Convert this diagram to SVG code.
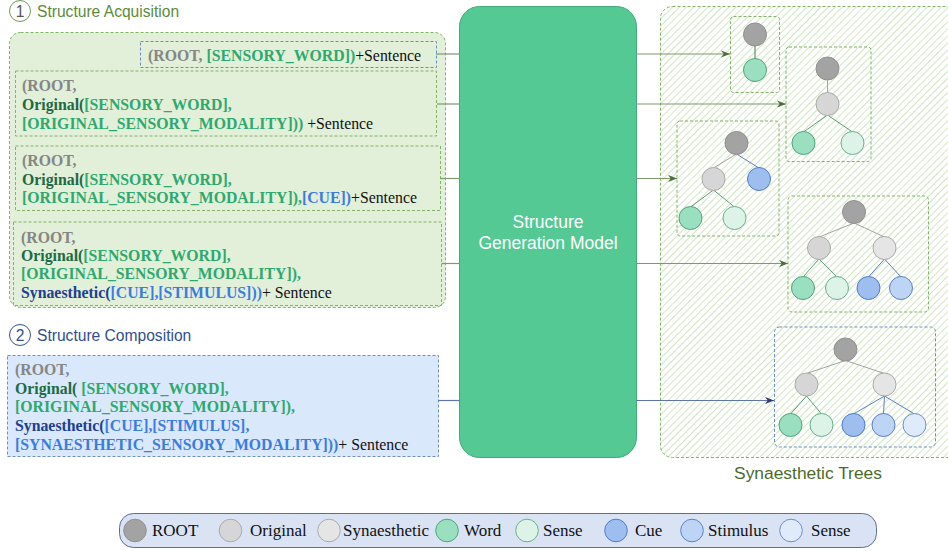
<svg xmlns="http://www.w3.org/2000/svg" width="948" height="551" viewBox="0 0 948 551">
  <style>
    .code { font-family: "Liberation Serif", "Times New Roman", serif; font-size: 15.8px; font-weight: bold; }
    .g { fill: #868686; }
    .w { fill: #2ea96e; }
    .dw { fill: #1d6a44; }
    .b { fill: #3b7ce0; }
    .db { fill: #213f8e; }
    .s { fill: #111111; font-weight: normal; }
    .head { font-family: "Liberation Sans", Arial, sans-serif; font-size: 15.6px; }
    .grp { fill: #e2efd9; stroke: #82b366; stroke-width: 1; stroke-dasharray: 3 2; }
    .blu { fill: #dae8fc; stroke: #6c8ebf; stroke-width: 1; stroke-dasharray: 3 2; }
    .tbox { fill: none; stroke: #82b366; stroke-width: 1; stroke-dasharray: 3 2; }
    .conn { fill: none; stroke: #7c9a6a; stroke-width: 1.2; }
    .connb { fill: none; stroke: #5f77a6; stroke-width: 1.2; }
    .e-grey { stroke: #a3a3a3; stroke-width: 1; }
    .e-green { stroke: #5c9d78; stroke-width: 1; }
    .e-blue { stroke: #5b7fc0; stroke-width: 1; }
    .root { fill: #a3a3a3; stroke: #909090; }
    .orig { fill: #d6d6d6; stroke: #aaaaaa; }
    .syn { fill: #e5e5e5; stroke: #aaaaaa; }
    .word { fill: #9adfbf; stroke: #4fa57a; }
    .sense { fill: #ddf3e8; stroke: #67b28a; }
    .cue { fill: #9dbeee; stroke: #4f7cc4; }
    .stim { fill: #bdd4f5; stroke: #5a82c6; }
    .bsense { fill: #dfeafb; stroke: #6b8fcc; }
    .leg { font-family: "Liberation Serif", "Times New Roman", serif; font-size: 17px; fill: #111111; }
  </style>
  <defs>
    <pattern id="hatch" patternUnits="userSpaceOnUse" width="5" height="5" patternTransform="rotate(45)">
      <rect width="5" height="5" fill="#ffffff"/>
      <line x1="0" y1="0" x2="0" y2="5" stroke="#c6e1b3" stroke-width="1.6"/>
    </pattern>
    <marker id="arrG" viewBox="0 0 10 8" refX="10" refY="4" markerWidth="9" markerHeight="7.5" markerUnits="userSpaceOnUse" orient="auto">
      <path d="M0,0 L10,4 L0,8 L3,4 Z" fill="#4f6e3a"/>
    </marker>
    <marker id="arrB" viewBox="0 0 10 8" refX="10" refY="4" markerWidth="9" markerHeight="7.5" markerUnits="userSpaceOnUse" orient="auto">
      <path d="M0,0 L10,4 L0,8 L3,4 Z" fill="#2a3f6e"/>
    </marker>
  </defs>

  <rect width="948" height="551" fill="#ffffff"/>

  <!-- section headings -->
  <g id="heading-acquisition">
    <circle cx="20" cy="11" r="10.5" fill="#ffffff" stroke="#6f9a55" stroke-width="1"/>
    <text x="20" y="16.5" text-anchor="middle" class="head" fill="#555555">1</text>
    <text x="37" y="16.5" class="head" fill="#5b8c3a">Structure Acquisition</text>
  </g>
  <g id="heading-composition">
    <circle cx="20" cy="335" r="10.5" fill="#ffffff" stroke="#2f4f8f" stroke-width="1"/>
    <text x="20" y="340.5" text-anchor="middle" class="head" fill="#2f4f8f">2</text>
    <text x="37" y="340.5" class="head" fill="#2f4f8f">Structure Composition</text>
  </g>

  <!-- acquisition group -->
  <g id="acquisition-group">
    <rect x="9.5" y="32.5" width="436" height="275" rx="11" class="grp"/>
  </g>

  <g id="prompt-1">
    <rect x="140.5" y="41.5" width="296" height="26" fill="#e2efd9" stroke="#6c8ebf" stroke-dasharray="3 2"/>
    <text x="148" y="60.5" class="code"><tspan class="g">(ROOT, </tspan><tspan class="w">[SENSORY_WORD])</tspan><tspan class="s">+Sentence</tspan></text>
  </g>

  <g id="prompt-2">
    <rect x="15.5" y="71" width="421" height="65" class="grp"/>
    <text class="code">
      <tspan x="22" y="90.5" class="g">(ROOT,</tspan>
      <tspan x="22" y="109.5" class="dw">Original(</tspan><tspan class="w">[SENSORY_WORD],</tspan>
      <tspan x="22" y="128.5" class="w">[ORIGINAL_SENSORY_MODALITY]))</tspan><tspan class="s"> +Sentence</tspan>
    </text>
  </g>

  <g id="prompt-3">
    <rect x="15.5" y="146" width="425" height="64.5" class="grp"/>
    <text class="code">
      <tspan x="22" y="165.5" class="g">(ROOT,</tspan>
      <tspan x="22" y="184.5" class="dw">Original(</tspan><tspan class="w">[SENSORY_WORD],</tspan>
      <tspan x="22" y="203" class="w">[ORIGINAL_SENSORY_MODALITY]),</tspan><tspan class="b">[CUE])</tspan><tspan class="s">+Sentence</tspan>
    </text>
  </g>

  <g id="prompt-4">
    <rect x="13.5" y="222" width="428" height="83.5" class="grp"/>
    <text class="code">
      <tspan x="21" y="242.5" class="g">(ROOT,</tspan>
      <tspan x="21" y="260.5" class="dw">Original(</tspan><tspan class="w">[SENSORY_WORD],</tspan>
      <tspan x="21" y="279" class="w">[ORIGINAL_SENSORY_MODALITY]),</tspan>
      <tspan x="21" y="297.5" class="db">Synaesthetic(</tspan><tspan class="b">[CUE],[STIMULUS]))</tspan><tspan class="s">+ Sentence</tspan>
    </text>
  </g>

  <g id="prompt-5">
    <rect x="7.5" y="355.5" width="431" height="101" class="blu"/>
    <text class="code">
      <tspan x="15" y="375" class="g">(ROOT,</tspan>
      <tspan x="15" y="394" class="dw">Original( </tspan><tspan class="w">[SENSORY_WORD],</tspan>
      <tspan x="15" y="412" class="w">[ORIGINAL_SENSORY_MODALITY]),</tspan>
      <tspan x="15" y="431" class="db">Synaesthetic(</tspan><tspan class="b">[CUE],[STIMULUS],</tspan>
      <tspan x="15" y="449.5" class="b">[SYNAESTHETIC_SENSORY_MODALITY]))</tspan><tspan class="s">+ Sentence</tspan>
    </text>
  </g>

  <!-- model -->
  <g id="model">
    <rect x="459.5" y="6.5" width="177" height="451" rx="20" fill="#54c994" stroke="#46a77b" stroke-width="1"/>
    <text x="548" y="228" text-anchor="middle" font-family="'Liberation Sans', Arial, sans-serif" font-size="17.5" fill="#ffffff">Structure</text>
    <text x="548" y="249" text-anchor="middle" font-family="'Liberation Sans', Arial, sans-serif" font-size="17.5" fill="#ffffff">Generation Model</text>
  </g>

  <!-- output area -->
  <g id="trees-area">
    <rect x="660.5" y="6.5" width="300" height="451" rx="12" fill="url(#hatch)" stroke="#82b366" stroke-dasharray="3 2"/>
    <text x="808" y="479" text-anchor="middle" font-family="'Liberation Sans', Arial, sans-serif" font-size="17.4" fill="#4a6b2a">Synaesthetic Trees</text>
  </g>

  <!-- connectors -->
  <g id="connectors">
    <line x1="436" y1="54" x2="460" y2="54" class="conn"/>
    <line x1="636" y1="54" x2="730" y2="54" class="conn" marker-end="url(#arrG)"/>
    <line x1="437" y1="104" x2="460" y2="104" class="conn"/>
    <line x1="636" y1="104" x2="786" y2="104" class="conn" marker-end="url(#arrG)"/>
    <line x1="440.5" y1="178.5" x2="460" y2="178.5" class="conn"/>
    <line x1="636" y1="178.5" x2="677" y2="178.5" class="conn" marker-end="url(#arrG)"/>
    <line x1="441.5" y1="263.5" x2="460" y2="263.5" class="conn"/>
    <line x1="636" y1="263.5" x2="788" y2="263.5" class="conn" marker-end="url(#arrG)"/>
    <line x1="438.5" y1="400.5" x2="460" y2="400.5" class="connb"/>
    <line x1="636" y1="400.5" x2="774" y2="400.5" class="connb" marker-end="url(#arrB)"/>
  </g>

  <!-- tree 1: root + word -->
  <g id="tree-1">
    <rect x="730.5" y="16.5" width="49" height="76" rx="3" class="tbox"/>
    <line x1="755" y1="34.5" x2="755" y2="70" stroke="#3d7a50" stroke-width="1"/>
    <circle cx="755" cy="34.5" r="11.5" class="root"/>
    <circle cx="755" cy="70" r="11.5" class="word"/>
  </g>

  <!-- tree 2: root, original, word, sense -->
  <g id="tree-2">
    <rect x="786" y="47" width="85" height="114.5" rx="3" class="tbox"/>
    <line x1="827.5" y1="68.5" x2="827.5" y2="104" class="e-grey"/>
    <line x1="827.5" y1="115" x2="803.5" y2="132" class="e-green"/>
    <line x1="827.5" y1="115" x2="852.5" y2="132" class="e-green"/>
    <circle cx="827.5" cy="68.5" r="11.5" class="root"/>
    <circle cx="827.5" cy="104" r="11.5" class="orig"/>
    <circle cx="803.5" cy="143" r="11.5" class="word"/>
    <circle cx="852.5" cy="143" r="11.5" class="sense"/>
  </g>

  <!-- tree 3: adds cue -->
  <g id="tree-3">
    <rect x="677" y="121" width="102" height="115" rx="3" class="tbox"/>
    <line x1="736.5" y1="154" x2="713.5" y2="168" class="e-grey"/>
    <line x1="736.5" y1="154" x2="759" y2="168" class="e-blue"/>
    <line x1="713.5" y1="190" x2="690.5" y2="207" class="e-green"/>
    <line x1="713.5" y1="190" x2="734.5" y2="207" class="e-green"/>
    <circle cx="736.5" cy="143" r="11.5" class="root"/>
    <circle cx="713.5" cy="179" r="11.5" class="orig"/>
    <circle cx="759" cy="179" r="11.5" class="cue"/>
    <circle cx="690.5" cy="218" r="11.5" class="word"/>
    <circle cx="734.5" cy="218" r="11.5" class="sense"/>
  </g>

  <!-- tree 4: original + synaesthetic branches -->
  <g id="tree-4">
    <rect x="788" y="196" width="140.5" height="116" rx="4" class="tbox"/>
    <line x1="854" y1="223" x2="819" y2="237" class="e-grey"/>
    <line x1="854" y1="223" x2="884.5" y2="237" class="e-grey"/>
    <line x1="819" y1="259" x2="803" y2="277" class="e-green"/>
    <line x1="819" y1="259" x2="837" y2="277" class="e-green"/>
    <line x1="884.5" y1="259" x2="868.5" y2="277" class="e-blue"/>
    <line x1="884.5" y1="259" x2="901" y2="277" class="e-blue"/>
    <circle cx="854" cy="212" r="11.5" class="root"/>
    <circle cx="819" cy="248" r="11.5" class="orig"/>
    <circle cx="884.5" cy="248" r="11.5" class="syn"/>
    <circle cx="803" cy="288" r="11.5" class="word"/>
    <circle cx="837" cy="288" r="11.5" class="sense"/>
    <circle cx="868.5" cy="288" r="11.5" class="cue"/>
    <circle cx="901" cy="288" r="11.5" class="stim"/>
  </g>

  <!-- tree 5: full composition -->
  <g id="tree-5">
    <rect x="774.5" y="327" width="161" height="120" rx="5" fill="none" stroke="#6c8ebf" stroke-dasharray="3 2"/>
    <line x1="845.5" y1="360.5" x2="806.5" y2="373.5" class="e-grey"/>
    <line x1="845.5" y1="360.5" x2="884.5" y2="373.5" class="e-grey"/>
    <line x1="806.5" y1="396" x2="790.5" y2="414" class="e-green"/>
    <line x1="806.5" y1="396" x2="821.5" y2="414" class="e-green"/>
    <line x1="884.5" y1="396" x2="853.5" y2="414" class="e-blue"/>
    <line x1="884.5" y1="396" x2="883.5" y2="414" class="e-blue"/>
    <line x1="884.5" y1="396" x2="914.5" y2="414" class="e-blue"/>
    <circle cx="845.5" cy="349.5" r="11.5" class="root"/>
    <circle cx="806.5" cy="384.5" r="11.5" class="orig"/>
    <circle cx="884.5" cy="384.5" r="11.5" class="syn"/>
    <circle cx="790.5" cy="425" r="11.5" class="word"/>
    <circle cx="821.5" cy="425" r="11.5" class="sense"/>
    <circle cx="853.5" cy="425" r="11.5" class="cue"/>
    <circle cx="883.5" cy="425" r="11.5" class="stim"/>
    <circle cx="914.5" cy="425" r="11.5" class="bsense"/>
  </g>

  <!-- legend -->
  <g id="legend">
    <rect x="119.5" y="513.5" width="757" height="34" rx="14" fill="#d9e3f4" stroke="#5d6f8f" stroke-width="1"/>
    <circle cx="135" cy="530.5" r="11.3" class="root"/>
    <text x="152" y="536" class="leg">ROOT</text>
    <circle cx="230.5" cy="530.5" r="11.3" class="orig"/>
    <text x="250" y="536" class="leg">Original</text>
    <circle cx="329" cy="530.5" r="11.3" class="syn"/>
    <text x="343" y="536" class="leg">Synaesthetic</text>
    <circle cx="447" cy="530.5" r="11.3" class="word"/>
    <text x="464" y="536" class="leg">Word</text>
    <circle cx="527" cy="530.5" r="11.3" class="sense"/>
    <text x="543" y="536" class="leg">Sense</text>
    <circle cx="616" cy="530.5" r="11.3" class="cue"/>
    <text x="635" y="536" class="leg">Cue</text>
    <circle cx="692" cy="530.5" r="11.3" class="stim"/>
    <text x="708" y="536" class="leg">Stimulus</text>
    <circle cx="791" cy="530.5" r="11.3" class="bsense"/>
    <text x="811" y="536" class="leg">Sense</text>
  </g>
</svg>
